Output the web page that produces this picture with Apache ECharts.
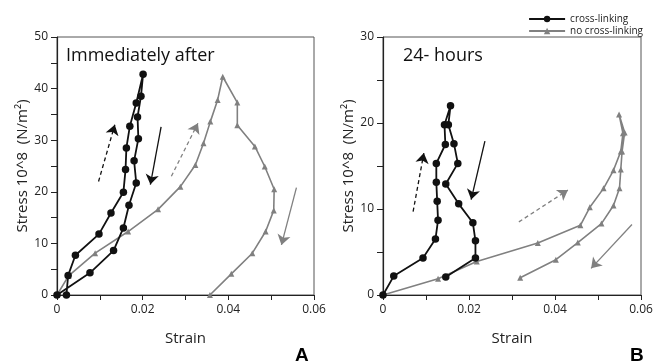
<!DOCTYPE html>
<html>
<head>
<meta charset="utf-8">
<script src="https://cdn.jsdelivr.net/npm/echarts@6/dist/echarts.min.js"></script>
<style>
  html, body { margin: 0; padding: 0; background: #fff; }
  #chart { width: 664px; height: 362px; }
</style>
</head>
<body>
<div id="chart"></div>
<script>
// strain / stress points
const aCross = [
  [0.0022, 0], [0.0026, 3.8], [0.0043, 7.7], [0.0098, 11.8], [0.0126, 15.9],
  [0.0155, 19.9], [0.016, 24.3], [0.0162, 28.5], [0.017, 32.7], [0.0185, 37.2],
  [0.0201, 42.8], [0.0196, 38.5], [0.0188, 34.5], [0.019, 30.3], [0.018, 26.0],
  [0.0185, 21.7], [0.0168, 17.4], [0.0155, 13.0], [0.0132, 8.6], [0.0077, 4.3], [0, 0]
];
const aNoCross = [
  [0, 0], [0.0027, 3.7], [0.0089, 8.1], [0.0166, 12.3], [0.0236, 16.6],
  [0.0288, 21.0], [0.0323, 25.2], [0.0342, 29.4], [0.0358, 33.6], [0.0375, 37.8],
  [0.0387, 42.3], [0.0421, 37.3], [0.0421, 32.9], [0.0462, 28.8], [0.0485, 24.9],
  [0.0507, 20.5], [0.0506, 16.4], [0.0487, 12.3], [0.0456, 8.1], [0.0407, 4.1], [0.0357, 0]
];
const bCross = [
  [0, 0], [0.0025, 2.2], [0.0093, 4.3], [0.0122, 6.5], [0.0128, 8.7],
  [0.0126, 10.9], [0.0124, 13.1], [0.0124, 15.3], [0.0145, 17.5], [0.0143, 19.8],
  [0.0157, 22.0], [0.0152, 19.8], [0.0165, 17.6], [0.0174, 15.3], [0.0146, 12.9],
  [0.0176, 10.6], [0.0209, 8.4], [0.0215, 6.3], [0.0215, 4.3], [0.0146, 2.1]
];
const bNoCross = [
  [0, 0], [0.0128, 1.9], [0.0218, 3.9], [0.036, 6.05], [0.0459, 8.1],
  [0.0481, 10.2], [0.0513, 12.4], [0.0536, 14.5], [0.0553, 16.7], [0.0558, 18.8],
  [0.0549, 21.0], [0.0562, 18.9], [0.0556, 16.7], [0.0553, 14.6], [0.055, 12.4],
  [0.0536, 10.4], [0.0508, 8.3], [0.0453, 6.1], [0.0402, 4.1], [0.0319, 2.0]
];
// direction arrows: [from, to]
const aArrows = [
  { c: [[0.0097, 22.0], [0.0135, 33.0]], dashed: true, gray: false },
  { c: [[0.0243, 32.6], [0.0218, 21.4]], dashed: false, gray: false },
  { c: [[0.0267, 23.0], [0.0329, 33.3]], dashed: true, gray: true },
  { c: [[0.0559, 20.8], [0.0524, 9.7]], dashed: false, gray: true }
];
const bArrows = [
  { c: [[0.0070, 9.7], [0.0095, 16.5]], dashed: true, gray: false },
  { c: [[0.0237, 17.9], [0.0205, 11.1]], dashed: false, gray: false },
  { c: [[0.0316, 8.5], [0.0430, 12.2]], dashed: true, gray: true },
  { c: [[0.0579, 8.2], [0.0484, 3.1]], dashed: false, gray: true }
];
const xTicks = [0, 0.02, 0.04, 0.06];
const aYMax = 50;
const bYMax = 30;

const FONT = 'Open Sans';
const BLACK = '#111';
const GRAY = '#808080';

const chart = echarts.init(document.getElementById('chart'));

function xAxis(gridIndex) {
  return {
    type: 'value', gridIndex, min: 0, max: 0.06, interval: 0.02,
    name: 'Strain', nameLocation: 'middle', nameGap: 36,
    nameTextStyle: { fontFamily: FONT, fontSize: 15, color: '#222' },
    axisLine: { onZero: false, lineStyle: { color: '#222', width: 1.2 } },
    axisTick: { length: 5, lineStyle: { color: '#222' } },
    minorTick: { show: true, splitNumber: 2, length: 5, lineStyle: { color: '#222' } },
    splitLine: { show: false },
    axisLabel: {
      fontFamily: FONT, fontSize: 12, color: '#222', margin: 9,
      formatter: v => String(xTicks.find(t => Math.abs(t - v) < 1e-9) ?? v)
    }
  };
}
function yAxis(gridIndex, max, gap) {
  return {
    type: 'value', gridIndex, min: 0, max, interval: 10,
    name: 'Stress 10^8  (N/m²)', nameLocation: 'middle', nameGap: gap,
    nameTextStyle: { fontFamily: FONT, fontSize: 15, color: '#222' },
    axisLine: { onZero: false, lineStyle: { color: '#222', width: 1.2 } },
    axisTick: { length: 6, lineStyle: { color: '#222' } },
    minorTick: { show: true, splitNumber: 2, length: 6, lineStyle: { color: '#222' } },
    splitLine: { show: false },
    axisLabel: { fontFamily: FONT, fontSize: 12, color: '#222', margin: 9 }
  };
}
function curve(name, data, idx, isCross) {
  return {
    name, type: 'line', data, xAxisIndex: idx, yAxisIndex: idx,
    symbol: isCross ? 'circle' : 'triangle',
    symbolSize: isCross ? 7.5 : 6,
    showAllSymbol: true,
    itemStyle: { color: isCross ? BLACK : GRAY },
    lineStyle: { color: isCross ? BLACK : GRAY, width: isCross ? 1.8 : 1.6 },
    z: isCross ? 3 : 2,
    animation: false
  };
}
function arrows(list, idx) {
  return list.map(a => ({
    type: 'lines', coordinateSystem: 'cartesian2d', xAxisIndex: idx, yAxisIndex: idx,
    symbol: ['none', 'arrow'], symbolSize: 10,
    lineStyle: { color: a.gray ? GRAY : BLACK, width: 1.3, type: a.dashed ? [4, 3] : 'solid', opacity: 1 },
    data: [{ coords: a.c }],
    animation: false, silent: true
  }));
}

chart.setOption({
  animation: false,
  textStyle: { fontFamily: FONT },
  grid: [
    { left: 57, right: 350, top: 37, bottom: 67, show: true, borderColor: '#555', borderWidth: 1 },
    { left: 383, right: 23, top: 37, bottom: 67, show: true, borderColor: '#555', borderWidth: 1 }
  ],
  xAxis: [xAxis(0), xAxis(1)],
  yAxis: [yAxis(0, aYMax, 25), yAxis(1, bYMax, 21)],
  legend: {
    right: 16, top: 9, orient: 'vertical', itemGap: 2, itemWidth: 36, itemHeight: 8,
    textStyle: { fontFamily: FONT, fontSize: 10, color: '#222' },
    data: ['cross-linking', 'no cross-linking']
  },
  title: [
    { text: 'Immediately after', left: 61, top: 42, textStyle: { fontFamily: FONT, fontSize: 18, fontWeight: 'normal', color: '#111' } },
    { text: '24- hours', left: 398, top: 42, textStyle: { fontFamily: FONT, fontSize: 18, fontWeight: 'normal', color: '#111' } },
    { text: 'A', left: 290, top: 341, textStyle: { fontFamily: 'Liberation Sans', fontSize: 19, fontWeight: 'bold', color: '#000' } },
    { text: 'B', left: 625, top: 341, textStyle: { fontFamily: 'Liberation Sans', fontSize: 19, fontWeight: 'bold', color: '#000' } }
  ],
  series: [
    curve('no cross-linking', aNoCross, 0, false),
    curve('cross-linking', aCross, 0, true),
    curve('no cross-linking', bNoCross, 1, false),
    curve('cross-linking', bCross, 1, true),
    ...arrows(aArrows, 0),
    ...arrows(bArrows, 1)
  ]
});
</script>
</body>
</html>
